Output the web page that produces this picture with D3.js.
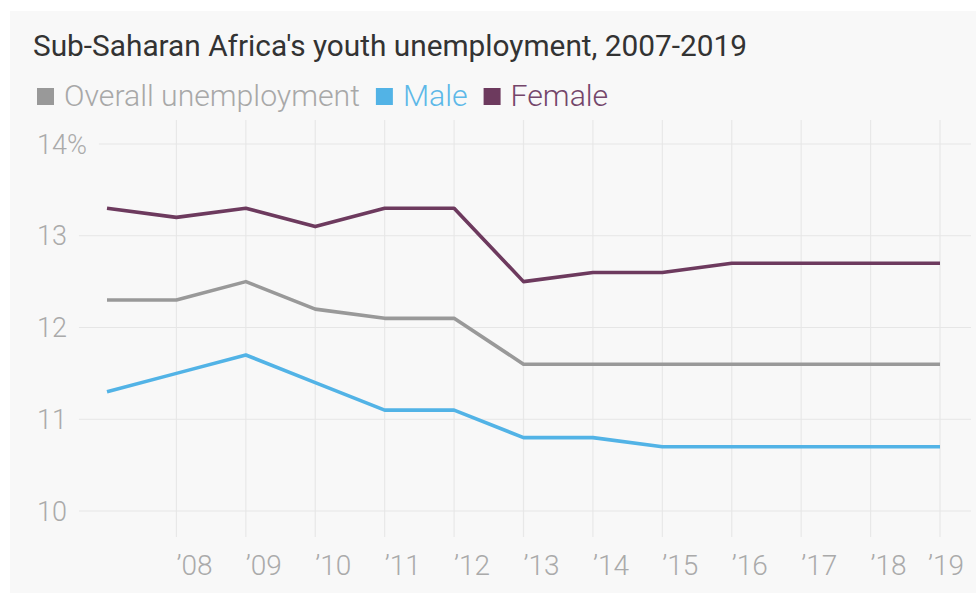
<!DOCTYPE html>
<html>
<head>
<meta charset="utf-8">
<script src="https://cdn.jsdelivr.net/npm/d3@7"></script>
<style>
  html, body { margin: 0; padding: 0; background: #ffffff; }
  svg { display: block; }
</style>
</head>
<body>
<svg id="chart" width="976" height="593"></svg>
<script>
// ---- data ----
const years = [2007, 2008, 2009, 2010, 2011, 2012, 2013, 2014, 2015, 2016, 2017, 2018, 2019];
const overall = [12.3, 12.3, 12.5, 12.2, 12.1, 12.1, 11.6, 11.6, 11.6, 11.6, 11.6, 11.6, 11.6];
const male    = [11.3, 11.5, 11.7, 11.4, 11.1, 11.1, 10.8, 10.8, 10.7, 10.7, 10.7, 10.7, 10.7];
const female  = [13.3, 13.2, 13.3, 13.1, 13.3, 13.3, 12.5, 12.6, 12.6, 12.7, 12.7, 12.7, 12.7];
const yTicks = [10, 11, 12, 13, 14];
const xTickYears = [2008, 2009, 2010, 2011, 2012, 2013, 2014, 2015, 2016, 2017, 2018, 2019];
const seriesNames = ["Overall unemployment", "Male", "Female"];
const title = "Sub-Saharan Africa's youth unemployment, 2007-2019";

// ---- style ----
const colors = ["#999999", "#52b3e6", "#6d3a5e"];
const textColors = ["#a8a8a8", "#5db8e8", "#74466a"];
const font = "Roboto, 'Liberation Sans', sans-serif";

const svg = d3.select("#chart");
const W = 976, H = 593;

svg.append("rect").attr("x", 10).attr("y", 11).attr("width", W - 10).attr("height", H - 11).attr("fill", "#f8f8f8");

const x = d3.scaleLinear().domain([2007, 2019]).range([107, 940]);
const y = d3.scaleLinear().domain([10, 14]).range([511, 144]);

// title
svg.append("text").attr("x", 33).attr("y", 56)
  .attr("font-family", font).attr("font-size", 29.8).attr("fill", "#333333")
  .text(title);

// legend
const legend = svg.append("g");
let lx = 37;
seriesNames.forEach((name, i) => {
  legend.append("rect").attr("x", lx).attr("y", 88).attr("width", 17).attr("height", 17).attr("fill", colors[i]);
  const t = legend.append("text").attr("x", lx + 27).attr("y", 106)
    .attr("font-family", font).attr("font-weight", 300).attr("font-size", 30.2)
    .attr("fill", textColors[i]).text(name);
  lx += 27 + t.node().getComputedTextLength() + 16;
});

// vertical gridlines
const grid = svg.append("g");
grid.selectAll("line.v").data(xTickYears).join("line").attr("class", "v")
  .attr("x1", d => x(d)).attr("x2", d => x(d))
  .attr("y1", 120).attr("y2", 537)
  .attr("stroke", "#e8e8e8").attr("stroke-width", 1.2);

// y labels + horizontal gridlines
const yg = svg.append("g");
yTicks.forEach(v => {
  const t = yg.append("text").attr("x", 37).attr("y", y(v)).attr("dy", "0.36em")
    .attr("font-family", font).attr("font-weight", 300).attr("font-size", 27)
    .attr("fill", "#aaaaaa").text(v === 14 ? v + "%" : v);
  const end = 37 + t.node().getComputedTextLength();
  yg.insert("line", "text").attr("x1", end + 12).attr("x2", 971)
    .attr("y1", y(v)).attr("y2", y(v))
    .attr("stroke", "#e6e6e6").attr("stroke-width", 1.2);
});

// x labels
const xg = svg.append("g");
xTickYears.forEach(yr => {
  const t = xg.append("text").attr("x", x(yr)).attr("y", 565).attr("dy", "0.36em")
    .attr("font-family", font).attr("font-weight", 300).attr("font-size", 28)
    .attr("fill", "#aaaaaa").text("\u2019" + String(yr).slice(2));
  const w = t.node().getComputedTextLength();
  if (x(yr) + w > 964) t.attr("x", 964 - w);
});

// lines
const line = d3.line().x((d, i) => x(years[i])).y(d => y(d));
[overall, male, female].forEach((s, i) => {
  svg.append("path").datum(s).attr("d", line)
    .attr("fill", "none").attr("stroke", colors[i]).attr("stroke-width", 3.6)
    .attr("stroke-linejoin", "round").attr("stroke-linecap", "butt");
});
</script>
</body>
</html>
